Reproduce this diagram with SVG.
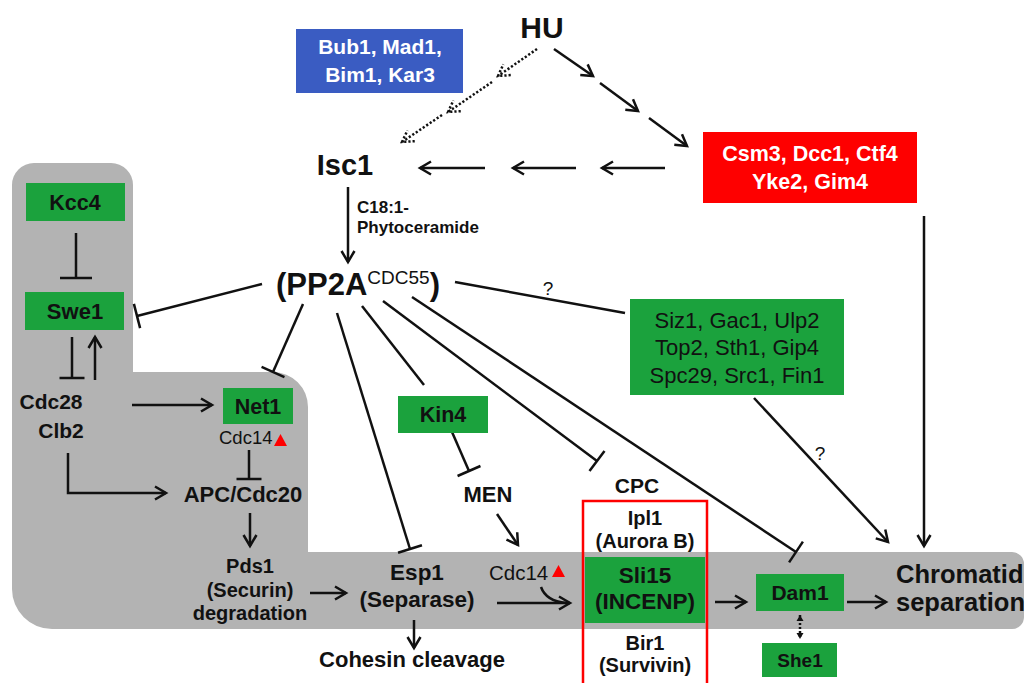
<svg xmlns="http://www.w3.org/2000/svg" width="1031" height="683" viewBox="0 0 1031 683">
<style>
text{font-family:"Liberation Sans",Arial,sans-serif;fill:#111;font-weight:bold;text-anchor:middle}
.n{font-weight:normal}
.w{fill:#fff}
.ln{stroke:#111;stroke-width:2.5;fill:none}
.ar{marker-end:url(#arr)}
.tb{marker-end:url(#bar)}
.dt{stroke-dasharray:2.2 2;marker-end:url(#darr)}
.g{fill:#1ba23d}
</style>
<defs>
<marker id="arr" markerUnits="userSpaceOnUse" markerWidth="18" markerHeight="18" viewBox="-14 -9 18 18" refX="0" refY="0" orient="auto"><path d="M-11,-6.5 L0,0 L-11,6.5" fill="none" stroke="#111" stroke-width="2.5"/></marker>
<marker id="darr" markerUnits="userSpaceOnUse" markerWidth="18" markerHeight="18" viewBox="-14 -9 18 18" refX="0" refY="0" orient="auto"><path d="M-11,-6.5 L0,0 L-11,6.5" fill="none" stroke="#111" stroke-width="2.5" stroke-dasharray="2.2 2"/></marker>
<marker id="sarr" markerUnits="userSpaceOnUse" markerWidth="10" markerHeight="10" viewBox="-8 -5 10 10" refX="0" refY="0" orient="auto-start-reverse"><path d="M-6,-3.5 L0,0 L-6,3.5 Z" fill="#111"/></marker>
<marker id="bar" markerUnits="userSpaceOnUse" markerWidth="8" markerHeight="30" viewBox="-4 -15 8 30" refX="0" refY="0" orient="auto"><path d="M0,-12.5 L0,12.5" stroke="#111" stroke-width="2.5"/></marker>
<marker id="barL" markerUnits="userSpaceOnUse" markerWidth="8" markerHeight="36" viewBox="-4 -18 8 36" refX="0" refY="0" orient="auto"><path d="M0,-16 L0,16" stroke="#111" stroke-width="2.5"/></marker>
</defs>
<rect width="1031" height="683" fill="#fff"/>
<path id="bg" d="M12,185 A22,22 0 0 1 34,163 L111,163 A22,22 0 0 1 133,185 L133,372 L273,372 A35,35 0 0 1 308,407 L308,552 L1012,552 A12,12 0 0 1 1024,564 L1024,617 A12,12 0 0 1 1012,629 L52,629 A40,40 0 0 1 12,589 Z" fill="#b3b3b3"/>

<g id="connectors">
<path class="ln dt" d="M537,49 L498,76"/>
<path class="ln dt" d="M492,82 L448,112"/>
<path class="ln dt" d="M442,115 L402,142"/>
<path class="ln ar" d="M554,49 L593,76"/>
<path class="ln ar" d="M600,83 L638,111"/>
<path class="ln ar" d="M649,118 L687,146"/>
<path class="ln ar" d="M665,168 L602,168"/>
<path class="ln ar" d="M576,168 L513,168"/>
<path class="ln ar" d="M485,168 L420,168"/>
<path class="ln ar" d="M348,187 L348,262"/>
<path class="ln tb" d="M262,284 L137,316"/>
<path class="ln tb" d="M303,304 L273,372"/>
<path class="ln tb" d="M337,313 L410,549"/>
<path class="ln" d="M362,306 L424,385"/>
<path class="ln tb" d="M383,301 L597,461"/>
<path class="ln tb" d="M412,297 L796,552"/>
<path class="ln" d="M455,282 L625,313"/>
<path class="ln ar" d="M754,398 L888,542"/>
<path class="ln ar" d="M924,216 L924,546"/>
<path class="ln" d="M76,233 L76,278" marker-end="url(#barL)"/>
<path class="ln tb" d="M72,337 L72,378"/>
<path class="ln ar" d="M95,380 L95,337"/>
<path class="ln ar" d="M132,405 L212,405"/>
<path class="ln tb" d="M249,450 L249,479"/>
<path class="ln ar" d="M68,453 L68,493 L166,493"/>
<path class="ln ar" d="M250,513 L250,546"/>
<path class="ln ar" d="M310,593 L346,593"/>
<path class="ln ar" d="M414,620 L414,648"/>
<path class="ln tb" d="M452,432 L469,471"/>
<path class="ln ar" d="M497,514 L518,545"/>
<path class="ln ar" d="M497,603 L570,603"/>
<path class="ln" d="M541,587 Q546,601 566,603"/>
<path class="ln ar" d="M715,602 L746,602"/>
<path class="ln ar" d="M847,602 L886,602"/>
<path class="ln" d="M800,615 L800,639" stroke-width="2" stroke-dasharray="2 2" marker-start="url(#sarr)" marker-end="url(#sarr)"/>
<text class="n" x="548" y="295" font-size="19">?</text>
<text class="n" x="820" y="460" font-size="19">?</text>
</g>

<g id="hu"><text x="542" y="38" font-size="30">HU</text></g>
<g id="bub1"><rect x="296" y="29" width="167" height="64" fill="#3a5cc2"/><text class="w" x="380" y="54" font-size="21">Bub1, Mad1,</text><text class="w" x="380" y="82" font-size="21">Bim1, Kar3</text></g>
<g id="csm3"><rect x="703" y="132" width="214" height="71" fill="#fe0000"/><text class="w" x="810" y="161" font-size="21.5">Csm3, Dcc1, Ctf4</text><text class="w" x="810" y="189" font-size="21.5">Yke2, Gim4</text></g>
<g id="isc1"><text x="345" y="175" font-size="29">Isc1</text></g>
<g id="c18"><text x="357" y="213" font-size="17" style="text-anchor:start">C18:1-</text><text x="357" y="233" font-size="17" style="text-anchor:start">Phytoceramide</text></g>
<g id="pp2a"><text x="276" y="295" font-size="31" style="text-anchor:start">(PP2A<tspan class="n" font-size="19" dy="-11">CDC55</tspan><tspan dy="11">)</tspan></text></g>
<g id="siz1"><rect x="630" y="299" width="214" height="96" class="g"/><text class="n" x="737" y="328" font-size="22">Siz1, Gac1, Ulp2</text><text class="n" x="737" y="355" font-size="22">Top2, Sth1, Gip4</text><text class="n" x="737" y="383" font-size="22">Spc29, Src1, Fin1</text></g>
<g id="kcc4"><rect x="26" y="183" width="99" height="38" class="g"/><text x="75" y="210" font-size="21.5">Kcc4</text></g>
<g id="swe1"><rect x="25" y="292" width="99" height="38" class="g"/><text x="75" y="319" font-size="22">Swe1</text></g>
<g id="cdc28"><text x="51" y="409" font-size="21">Cdc28</text><text x="61" y="438" font-size="21">Clb2</text></g>
<g id="net1"><rect x="223" y="388" width="70" height="36" class="g"/><text x="258" y="414" font-size="21.5">Net1</text><text class="n" x="219" y="444" font-size="18.5" style="text-anchor:start">Cdc14</text><path d="M274,446 L287,446 L280.5,434 Z" fill="#fe0000"/></g>
<g id="apc"><text x="243" y="502" font-size="22">APC/Cdc20</text></g>
<g id="pds1"><text x="250" y="573" font-size="20">Pds1</text><text x="250" y="597" font-size="20">(Securin)</text><text x="250" y="620" font-size="20">degradation</text></g>
<g id="esp1"><text x="417" y="580" font-size="22.5">Esp1</text><text x="417" y="607" font-size="22.5">(Separase)</text></g>
<g id="cohesin"><text x="412" y="667" font-size="22">Cohesin cleavage</text></g>
<g id="kin4"><rect x="398" y="396" width="90" height="37" class="g"/><text x="443" y="422" font-size="21.5">Kin4</text></g>
<g id="men"><text x="488" y="502" font-size="22">MEN</text></g>
<g id="cdc14b"><text class="n" x="489" y="580" font-size="20.5" style="text-anchor:start">Cdc14</text><path d="M552,577 L565,577 L558.5,565 Z" fill="#fe0000"/></g>
<g id="cpc"><text x="637" y="493" font-size="21">CPC</text>
<rect x="585" y="557" width="120" height="66" class="g"/>
<text x="645" y="525" font-size="20">Ipl1</text><text x="645" y="548" font-size="20">(Aurora B)</text>
<text x="645" y="583" font-size="22.5">Sli15</text><text x="645" y="609" font-size="22.5">(INCENP)</text>
<text x="645" y="650" font-size="20">Bir1</text><text x="645" y="672" font-size="20">(Survivin)</text>
<path d="M583,690 L583,501 L707,501 L707,690" fill="none" stroke="#fe0000" stroke-width="2.5"/></g>
<g id="dam1"><rect x="756" y="574" width="88" height="37" class="g"/><text x="800" y="600" font-size="21">Dam1</text></g>
<g id="she1"><rect x="762" y="643" width="75" height="34" class="g"/><text x="800" y="667" font-size="19">She1</text></g>
<g id="chromatid"><text x="896" y="583" font-size="25.5" style="text-anchor:start">Chromatid</text><text x="896" y="611" font-size="25.5" style="text-anchor:start">separation</text></g>
</svg>
